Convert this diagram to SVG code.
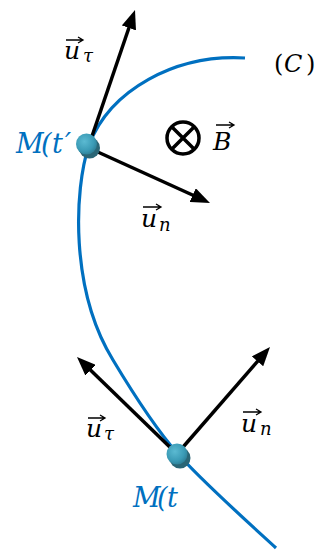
<svg xmlns="http://www.w3.org/2000/svg" width="332" height="550" viewBox="0 0 332 550">
<defs>
<style>
.curve{fill:none;stroke:#0070C0;stroke-width:3.2}
.vec{stroke:#000;stroke-width:3.5;fill:none}
.acc{stroke:#000;stroke-width:1.3;fill:none}
.mt{font-family:"DejaVu Serif","Liberation Serif",serif;font-style:italic;fill:#000}
.up{font-style:normal}
.blue{fill:#0070C0}
.ball{fill:url(#ballG)}
.shadow{fill:#2A6676}
</style>
<marker id="ah" markerUnits="userSpaceOnUse" markerWidth="19" markerHeight="15" viewBox="0 -7.5 19 15" refX="1" refY="0" orient="auto">
<path d="M0,-7.5 L19,0 L0,7.5 z" fill="#000"/>
</marker>
<radialGradient id="ballG" cx="0.4" cy="0.38" r="0.65">
<stop offset="0" stop-color="#5BBAD2"/>
<stop offset="0.7" stop-color="#3A9AB5"/>
<stop offset="1" stop-color="#2E7F96"/>
</radialGradient>
</defs>
<rect width="332" height="550" fill="#fff"/>
<g id="curve-C">
<path class="curve" d="M245,58 C175,54 110,90 89,145 C74,190 70,290 113,360 C131,390 155,428 178,454 C201,480 240,515 276,548"/>
</g>
<g id="connectors">
<line class="vec" x1="89" y1="145" x2="129.2" y2="27" marker-end="url(#ah)"/>
<line class="vec" x1="89" y1="148" x2="193.6" y2="195.5" marker-end="url(#ah)"/>
<line class="vec" x1="177" y1="454" x2="89.9" y2="369.5" marker-end="url(#ah)"/>
<line class="vec" x1="177" y1="454" x2="258.2" y2="360.6" marker-end="url(#ah)"/>
</g>
<g id="label-C">
<text class="mt" font-size="24" y="72"><tspan class="up" x="274">(</tspan><tspan x="284">C</tspan><tspan class="up" x="306">)</tspan></text>
</g>
<g id="label-Mtp">
<text class="mt blue" font-size="27" y="153" x="16 41 52 65">M(t′</text>
</g>
<g id="label-Mt">
<text class="mt blue" font-size="27" y="507" x="133 157 167">M(t</text>
</g>
<g id="field-B">
<circle cx="183" cy="138" r="16" fill="none" stroke="#000" stroke-width="3.5"/>
<path d="M171.7,126.7 L194.3,149.3 M194.3,126.7 L171.7,149.3" stroke="#000" stroke-width="3.5"/>
<text class="mt" font-size="25" x="213" y="150">B</text>
<path class="acc" d="M216,125 H233 M229,122 L234,125 L229,128"/>
</g>
<g id="label-ut1">
<text class="mt" font-size="25" x="64" y="59">u</text>
<text class="mt" font-size="18" x="83" y="62">τ</text>
<path class="acc" d="M66,40 H82 M78,37 L83,40 L78,43"/>
</g>
<g id="label-un1">
<text class="mt" font-size="25" x="141" y="227">u</text>
<text class="mt" font-size="18" x="159" y="231">n</text>
<path class="acc" d="M143,207 H160 M156,204 L161,207 L156,210"/>
</g>
<g id="label-ut2">
<text class="mt" font-size="25" x="86" y="437">u</text>
<text class="mt" font-size="18" x="104" y="440">τ</text>
<path class="acc" d="M88,418 H104 M100,415 L105,418 L100,421"/>
</g>
<g id="label-un2">
<text class="mt" font-size="25" x="241" y="432">u</text>
<text class="mt" font-size="18" x="260" y="435">n</text>
<path class="acc" d="M243,412 H260 M256,409 L261,412 L256,415"/>
</g>
<g id="point-Mtp">
<circle class="shadow" cx="89.5" cy="148" r="10.5"/>
<circle class="ball" cx="86.5" cy="144" r="10.5"/>
</g>
<g id="point-Mt">
<circle class="shadow" cx="180" cy="458" r="10.5"/>
<circle class="ball" cx="177" cy="454" r="10.5"/>
</g>
</svg>
